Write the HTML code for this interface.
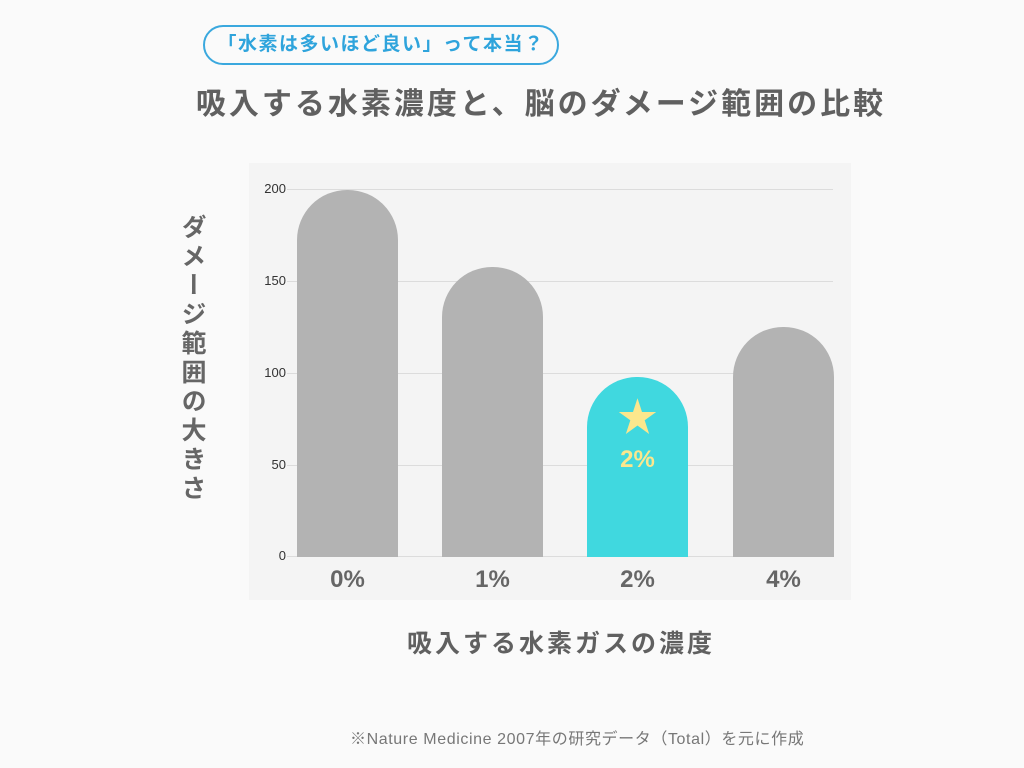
<!DOCTYPE html>
<html><head><meta charset="utf-8"><style>
body{margin:0;width:1024px;height:768px;background:#fafafa;position:relative;overflow:hidden;font-family:"Liberation Sans","Noto Sans CJK JP",sans-serif}
.a{position:absolute}
.pill{left:203px;top:25px;width:356px;height:40px;border:2px solid #3aa8de;border-radius:22px;box-sizing:border-box;color:#2fa4dc;font-weight:bold;font-size:19px;letter-spacing:1.5px;line-height:36px;text-align:center}
.title{left:0;width:1082px;top:79px;text-align:center;font-size:30px;letter-spacing:3px;font-weight:bold;color:#606060}
.panel{left:249px;top:163px;width:602px;height:437px;background:#f4f4f4}
.grid{left:287px;width:546px;height:1px;background:#dcdcdc}
.tick{left:240px;width:46px;text-align:right;font-size:13px;color:#333}
.bar{width:101px;background:#b3b3b3;border-radius:50px 50px 0 0}
.xl{width:101px;text-align:center;font-size:24px;font-weight:bold;color:#666;top:566px}
</style></head><body>
<div class="a pill">「水素は多いほど良い」って本当？</div>
<div class="a title">吸入する水素濃度と、脳のダメージ範囲の比較</div>
<div class="a panel"></div>
<div class="a grid" style="top:189px"></div>
<div class="a grid" style="top:281px"></div>
<div class="a grid" style="top:373px"></div>
<div class="a grid" style="top:465px"></div>
<div class="a grid" style="top:556px"></div>
<div class="a tick" style="top:181px">200</div>
<div class="a tick" style="top:273px">150</div>
<div class="a tick" style="top:365px">100</div>
<div class="a tick" style="top:457px">50</div>
<div class="a tick" style="top:548px">0</div>
<div class="a bar" style="left:297px;top:190px;height:367px"></div>
<div class="a bar" style="left:442px;top:267px;height:290px"></div>
<div class="a bar" style="left:587px;top:377px;height:180px;background:#40d8df"></div>
<div class="a bar" style="left:733px;top:327px;height:230px"></div>
<div class="a" style="left:587px;width:101px;top:396px;text-align:center;color:#fbe78d;font-size:40px;line-height:44px">★</div>
<div class="a" style="left:587px;width:101px;top:446px;text-align:center;color:#fbe78d;font-size:24px;font-weight:bold">2%</div>
<div class="a xl" style="left:297px">0%</div>
<div class="a xl" style="left:442px">1%</div>
<div class="a xl" style="left:587px">2%</div>
<div class="a xl" style="left:733px">4%</div>
<div class="a" style="left:176px;top:214px;width:32px;font-size:25px;letter-spacing:4px;font-weight:bold;color:#666;writing-mode:vertical-rl;line-height:32px">ダメージ範囲の大きさ</div>
<div class="a" style="left:0;width:1122px;top:624px;text-align:center;font-size:25px;letter-spacing:3px;font-weight:bold;color:#606060">吸入する水素ガスの濃度</div>
<div class="a" style="left:350px;top:725px;font-size:16px;letter-spacing:0.6px;color:#777">※Nature Medicine 2007年の研究データ（Total）を元に作成</div>
</body></html>
